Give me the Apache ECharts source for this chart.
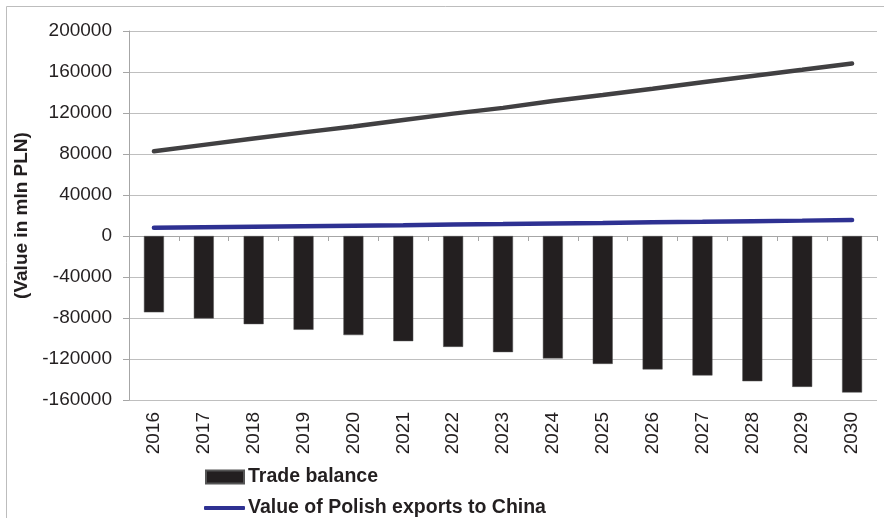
<!DOCTYPE html>
<html>
<head>
<meta charset="utf-8">
<script src="https://cdn.jsdelivr.net/npm/echarts@6/dist/echarts.min.js"></script>
<style>
html,body{margin:0;padding:0;background:#fff;}
#chart{width:884px;height:518px;}
</style>
</head>
<body>
<div id="chart"></div>
<script>
var years = ['2016','2017','2018','2019','2020','2021','2022','2023','2024','2025','2026','2027','2028','2029','2030'];
var tradeBalance = [-74500,-80400,-86000,-91500,-96700,-102600,-108200,-113300,-119500,-124800,-130200,-136100,-141700,-147200,-152700];
var exportsChina = [8100,8600,9100,9600,10100,10600,11200,11700,12300,12800,13400,13900,14500,15000,15600];
var importsChina = [82600,88900,95100,101100,106800,113200,119400,125000,131800,137600,143600,150000,156200,162200,168300];
var yTicks = {min:-160000, max:200000, interval:40000};
var seriesNames = ['Trade balance','Value of Polish exports to China','Value of Polish imports from China'];

var chart = echarts.init(document.getElementById('chart'));
var font = 'Liberation Sans, Arial, sans-serif';
chart.setOption({
  animation:false,
  graphic:[{type:'rect', shape:{x:6.5,y:6.5,width:1000,height:1000}, style:{fill:'none', stroke:'#bdbdbd', lineWidth:1}, silent:true, z:-10}],
  grid:{left:129, right:7, top:31, bottom:118, containLabel:false},
  legend:[
    {data:[{name:seriesNames[0], icon:'rect'}], left:205, top:466, padding:0, itemWidth:38, itemHeight:13, itemGap:10,
     textStyle:{fontFamily:font, fontSize:19.5, fontWeight:'bold', color:'#231f20', lineHeight:22, padding:[0,0,0,-1]}},
    {data:[{name:seriesNames[1], icon:'roundRect'}], left:204, top:497, padding:0, itemWidth:41, itemHeight:4, itemGap:10,
     textStyle:{fontFamily:font, fontSize:19.5, fontWeight:'bold', color:'#231f20', lineHeight:22, padding:[0,0,0,-2]}}
  ],
  xAxis:[
    {type:'category', data:years, boundaryGap:true,
     axisLine:{onZero:true, lineStyle:{color:'#a6a6a6', width:1}},
     axisTick:{show:true, length:5, lineStyle:{color:'#a6a6a6'}},
     axisLabel:{show:false}, splitLine:{show:false}},
    {type:'category', data:years, boundaryGap:true, position:'bottom',
     axisLine:{show:false, onZero:false}, axisTick:{show:false},
     axisLabel:{show:true, rotate:90, margin:12, fontFamily:font, fontSize:19, color:'#231f20'}}
  ],
  yAxis:{type:'value', min:yTicks.min, max:yTicks.max, interval:yTicks.interval,
    name:'(Value in mln PLN)', nameLocation:'middle', nameGap:98, nameRotate:90,
    nameTextStyle:{fontFamily:font, fontSize:19, fontWeight:'bold', color:'#231f20'},
    axisLine:{show:true, lineStyle:{color:'#a6a6a6'}},
    axisTick:{show:true, length:6, lineStyle:{color:'#a6a6a6'}},
    axisLabel:{margin:17, fontFamily:font, fontSize:19, color:'#231f20', formatter:function(v){return String(v);}},
    splitLine:{show:true, lineStyle:{color:'#bfbfbf', width:1}}
  },
  series:[
    {name:seriesNames[0], type:'bar', xAxisIndex:0, data:tradeBalance, barWidth:20,
     itemStyle:{color:'#231f20', borderColor:'#555', borderWidth:0.5}},
    {name:seriesNames[2], type:'line', xAxisIndex:0, data:importsChina, symbol:'none',
     lineStyle:{color:'#414042', width:4.5, cap:'round'}, itemStyle:{color:'#414042'}},
    {name:seriesNames[1], type:'line', xAxisIndex:0, data:exportsChina, symbol:'none',
     lineStyle:{color:'#2e3192', width:4.5, cap:'round'}, itemStyle:{color:'#2e3192'}}
  ]
});
</script>
</body>
</html>
